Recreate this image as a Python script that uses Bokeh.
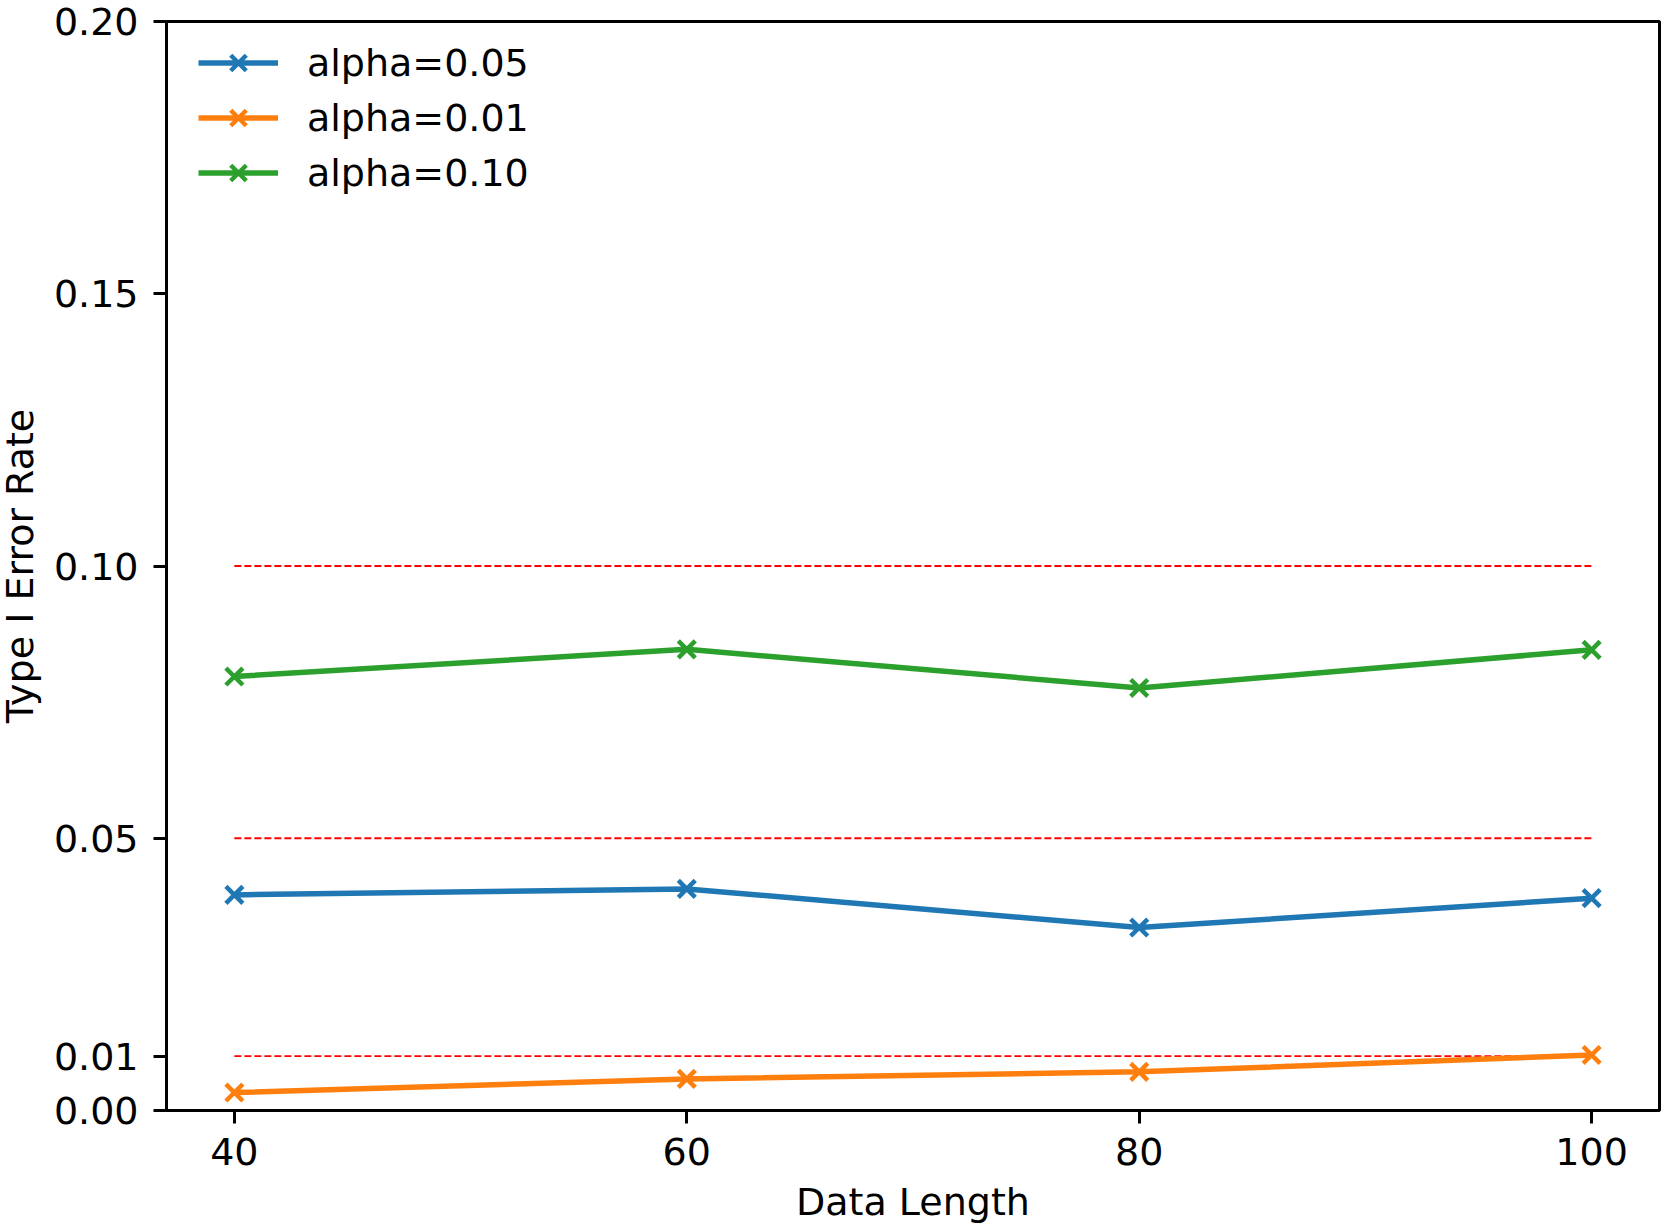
from bokeh.plotting import figure
from bokeh.models import Range1d, FixedTicker, PrintfTickFormatter, Legend, LegendItem
from bokeh.embed import file_html
from bokeh.resources import INLINE

data_length = [40, 60, 80, 100]
rate_005 = [0.0396, 0.0407, 0.0336, 0.0390]
rate_001 = [0.0033, 0.0058, 0.0071, 0.0102]
rate_010 = [0.0797, 0.0847, 0.0776, 0.0846]
alpha_levels = [0.10, 0.05, 0.01]
series_labels = ["alpha=0.05", "alpha=0.01", "alpha=0.10"]
colors = ["#1f77b4", "#ff7f0e", "#2ca02c"]
y_ticks = [0.0, 0.01, 0.05, 0.10, 0.15, 0.20]
x_ticks = [40, 60, 80, 100]

FONT = "DejaVu Sans"
FS = "38px"

SHIFT = 6
W, H = 1661 + SHIFT, 1226
TOP, BOTTOM, LEFT, RIGHT = 21, 1111, 162, 1659 + SHIFT

p = figure(width=W, height=H, output_backend="svg", toolbar_location=None,
           x_range=Range1d(37, 103), y_range=Range1d(0, 0.2),
           min_border_left=LEFT, min_border_right=W - RIGHT,
           min_border_top=TOP, min_border_bottom=H - BOTTOM)
p.styles = {"margin-left": f"-{SHIFT}px"}
p.grid.visible = False
p.outline_line_color = "black"
p.outline_line_width = 3
p.background_fill_color = "white"
p.border_fill_color = "white"

for ax in (p.xaxis[0], p.yaxis[0]):
    ax.axis_line_width = 3
    ax.axis_line_color = "black"
    ax.major_tick_line_width = 3
    ax.major_tick_out = 13
    ax.major_tick_in = 0
    ax.minor_tick_line_color = None
    ax.major_label_text_font = FONT
    ax.major_label_text_font_size = FS
    ax.major_label_text_color = "black"
    ax.axis_label_text_font = FONT
    ax.axis_label_text_font_size = FS
    ax.axis_label_text_font_style = "normal"
    ax.axis_label_text_color = "black"
    ax.axis_label_text_line_height = 1.0

p.xaxis.ticker = FixedTicker(ticks=x_ticks)
p.yaxis.ticker = FixedTicker(ticks=y_ticks)
p.yaxis.formatter = PrintfTickFormatter(format="%.2f")
p.xaxis.axis_label = "Data Length"
p.yaxis.axis_label = "Type I Error Rate"
p.xaxis.major_label_standoff = 14
p.yaxis.major_label_standoff = 15
p.xaxis.axis_label_standoff = 12
p.yaxis.axis_label_standoff = 9

# reference dashed lines at the alpha levels
x0 = [min(data_length)] * len(alpha_levels)
x1 = [max(data_length)] * len(alpha_levels)
p.segment(x0=x0, y0=alpha_levels, x1=x1, y1=alpha_levels,
          line_color="red", line_width=1.8, line_dash="7 3")

items = []
for vals, lab, col in zip([rate_005, rate_001, rate_010], series_labels, colors):
    l = p.line(data_length, vals, line_color=col, line_width=5.5)
    s = p.scatter(data_length, vals, marker="x", size=24, line_color=col, line_width=4.5)
    items.append(LegendItem(label=lab, renderers=[l, s]))

frame_h = BOTTOM - TOP
legend = Legend(items=items, location=(32, frame_h - 15 - 3 * 55))
legend.border_line_color = None
legend.background_fill_alpha = 0
legend.label_text_font = FONT
legend.label_text_font_size = FS
legend.label_text_color = "black"
legend.glyph_width = 80
legend.glyph_height = 55
legend.label_height = 55
legend.spacing = 0
legend.label_standoff = 29
legend.margin = 0
legend.padding = 0
p.add_layout(legend)

open("out.html", "w").write(file_html(p, INLINE))
